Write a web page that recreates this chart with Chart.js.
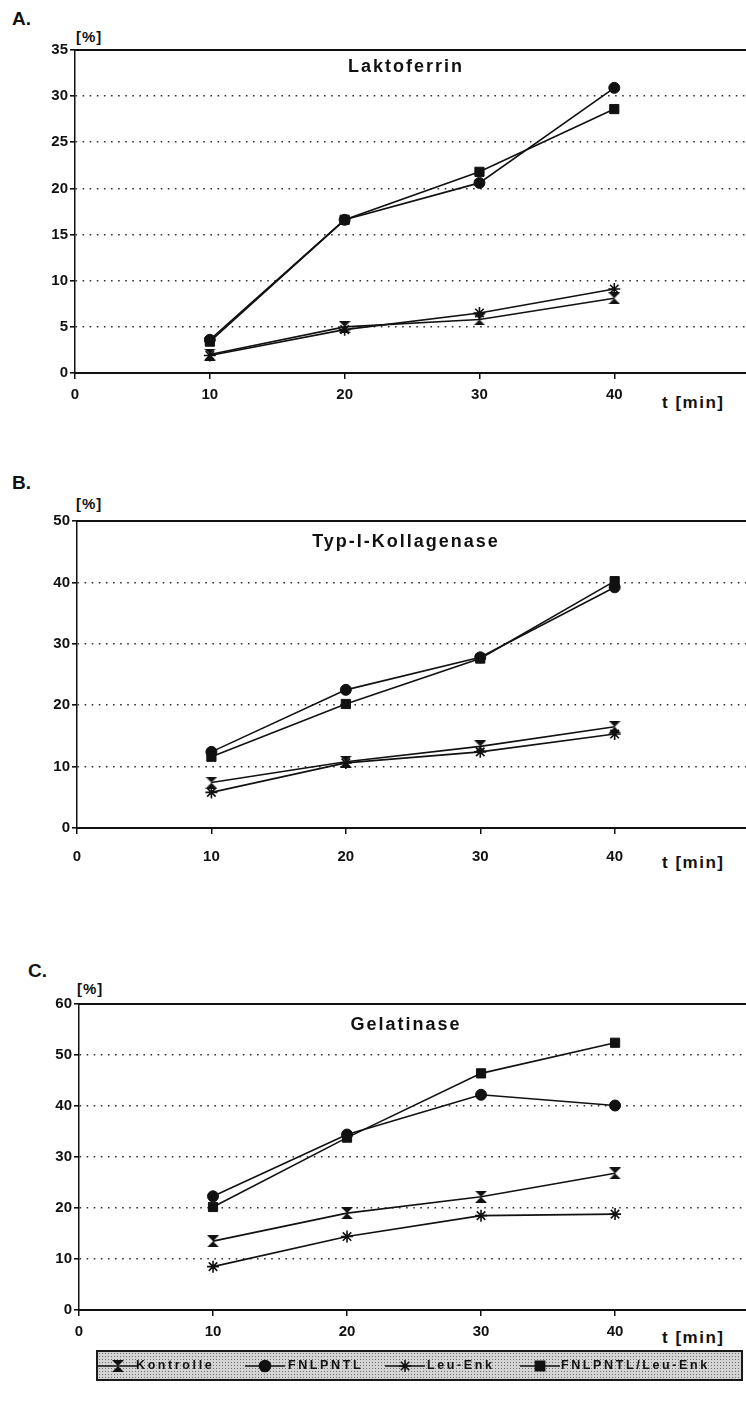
<!DOCTYPE html>
<html>
<head>
<meta charset="utf-8">
<script src="https://cdn.jsdelivr.net/npm/chart.js@4/dist/chart.umd.min.js"></script>
<style>
  body { margin: 0; background: #fff; width: 746px; height: 1405px; position: relative; overflow: hidden;
         font-family: "Liberation Sans", Arial, sans-serif; color: #111; }
  canvas.panel { position: absolute; left: 0; }
  .lbl { position: absolute; font-weight: bold; white-space: nowrap; line-height: 1; }
  #legend { position: absolute; left: 96px; top: 1350px; width: 647px; height: 31px; box-sizing: border-box;
            border: 2px solid #1a1a1a; background-color: #d4d4d4;
            background-image: radial-gradient(circle, #6e6e6e 0.7px, transparent 1px);
            background-size: 3px 3px; z-index: 2; }
  #legend canvas { position: absolute; top: 3px; }
  #legend span { position: absolute; top: 7px; font-weight: bold; font-size: 12.5px; letter-spacing: 2.6px; line-height: 1; }
</style>
</head>
<body>
<div class="lbl" style="left:12px;top:9px;font-size:19px">A.</div>
<div class="lbl" style="left:76px;top:29px;font-size:15px;letter-spacing:1px">[%]</div>
<div class="lbl" style="left:662px;top:394px;font-size:17px;letter-spacing:1.5px">t [min]</div>
<canvas class="panel" id="chartA" width="754" height="420" style="top:0px"></canvas>

<div class="lbl" style="left:12px;top:473px;font-size:19px">B.</div>
<div class="lbl" style="left:76px;top:496px;font-size:15px;letter-spacing:1px">[%]</div>
<div class="lbl" style="left:662px;top:854px;font-size:17px;letter-spacing:1.5px">t [min]</div>
<canvas class="panel" id="chartB" width="754" height="420" style="top:460px"></canvas>

<div class="lbl" style="left:28px;top:961px;font-size:19px">C.</div>
<div class="lbl" style="left:77px;top:981px;font-size:15px;letter-spacing:1px">[%]</div>
<div class="lbl" style="left:662px;top:1329px;font-size:17px;letter-spacing:1.5px">t [min]</div>
<canvas class="panel" id="chartC" width="754" height="410" style="top:940px"></canvas>

<div id="legend"></div>

<script>
// Zeitpunkte (min)
const times = [10, 20, 30, 40];
const xTicks = [0, 10, 20, 30, 40];
const seriesNames = ['Kontrolle', 'FNLPNTL', 'Leu-Enk', 'FNLPNTL/Leu-Enk'];

// A. Laktoferrin
const laktoKontrolle = [2.0, 5.0, 5.8, 8.1];
const laktoFnlpntl = [3.6, 16.6, 20.6, 30.9];
const laktoLeuEnk = [1.9, 4.7, 6.5, 9.1];
const laktoKombi = [3.4, 16.6, 21.8, 28.6];
const laktoYTicks = [0, 5, 10, 15, 20, 25, 30, 35];

// B. Typ-I-Kollagenase
const kollKontrolle = [7.4, 10.8, 13.3, 16.5];
const kollFnlpntl = [12.4, 22.5, 27.8, 39.2];
const kollLeuEnk = [5.8, 10.6, 12.4, 15.3];
const kollKombi = [11.6, 20.2, 27.6, 40.2];
const kollYTicks = [0, 10, 20, 30, 40, 50];

// C. Gelatinase
const gelaKontrolle = [13.5, 19.0, 22.2, 26.8];
const gelaFnlpntl = [22.3, 34.4, 42.2, 40.1];
const gelaLeuEnk = [8.5, 14.4, 18.5, 18.8];
const gelaKombi = [20.2, 33.8, 46.4, 52.4];
const gelaYTicks = [0, 10, 20, 30, 40, 50, 60];

const ink = '#111';
const tickFont = { family: '"Liberation Sans", Arial, sans-serif', size: 15, weight: 'bold' };

// Sanduhr-Symbol fuer Kontrolle
function hourglass(size) {
  const c = document.createElement('canvas');
  c.width = size; c.height = size;
  const g = c.getContext('2d');
  g.fillStyle = ink;
  g.beginPath();
  g.moveTo(0, 0); g.lineTo(size, 0); g.lineTo(size / 2, size / 2); g.closePath();
  g.moveTo(0, size); g.lineTo(size, size); g.lineTo(size / 2, size / 2); g.closePath();
  g.fill();
  return c;
}

const markerStyles = [hourglass(12), 'circle', 'star', 'rect'];
const markerRadius = [6, 5.5, 6, 6.5];
const markerBorder = [1, 1, 1.6, 1];

// Titel im Diagramm + obere Rahmenlinie
const panelTitle = {
  id: 'panelTitle',
  afterDraw(chart, args, opts) {
    const { ctx, chartArea } = chart;
    ctx.save();
    ctx.strokeStyle = ink;
    ctx.lineWidth = 2;
    ctx.beginPath();
    ctx.moveTo(chartArea.left, chartArea.top);
    ctx.lineTo(chartArea.right, chartArea.top);
    ctx.stroke();
    ctx.fillStyle = ink;
    ctx.font = 'bold 18px "Liberation Sans", Arial, sans-serif';
    ctx.letterSpacing = '2px';
    ctx.textAlign = 'center';
    ctx.textBaseline = 'middle';
    ctx.fillText(opts.text, 406, chartArea.top + opts.dy);
    ctx.restore();
  }
};

function makePanel(id, title, rows, yTicks, g) {
  const yMax = yTicks[yTicks.length - 1];
  return new Chart(document.getElementById(id), {
    type: 'line',
    data: {
      datasets: rows.map(function (vals, i) {
        return {
          label: seriesNames[i],
          data: vals.map(function (v, j) { return { x: times[j], y: v }; }),
          borderColor: ink,
          backgroundColor: ink,
          borderWidth: 1.6,
          pointStyle: markerStyles[i],
          pointRadius: markerRadius[i],
          pointBorderWidth: markerBorder[i],
          tension: 0
        };
      })
    },
    options: {
      responsive: false,
      animation: false,
      layout: { padding: { top: g.top, left: 0, right: 0, bottom: 0 } },
      plugins: {
        legend: { display: false },
        tooltip: { enabled: false },
        panelTitle: { text: title, dy: g.titleDy }
      },
      scales: {
        x: {
          type: 'linear',
          min: 0,
          max: 49.8,
          afterBuildTicks: function (s) { s.ticks = xTicks.map(function (v) { return { value: v }; }); },
          afterFit: function (s) { s.height = g.xh; },
          ticks: { font: tickFont, color: ink, padding: g.xpad, maxRotation: 0, autoSkip: false },
          grid: { drawOnChartArea: false, tickLength: 6, color: ink, lineWidth: 1.5 },
          border: { width: 2, color: ink }
        },
        y: {
          min: yTicks[0],
          max: yMax,
          afterBuildTicks: function (s) { s.ticks = yTicks.map(function (v) { return { value: v }; }); },
          afterFit: function (s) { s.width = g.left; },
          ticks: { font: tickFont, color: ink, padding: 2 },
          grid: {
            color: function (c) {
              return (c.tick && (c.tick.value === 0 || c.tick.value === yMax)) ? 'rgba(0,0,0,0)' : '#333';
            },
            lineWidth: 1.6,
            tickLength: 5,
            tickColor: ink
          },
          border: { width: 1.5, color: ink, dash: [1.6, 5.5] }
        }
      }
    },
    plugins: [panelTitle]
  });
}

makePanel('chartA', 'Laktoferrin', [laktoKontrolle, laktoFnlpntl, laktoLeuEnk, laktoKombi], laktoYTicks,
  { top: 50, xh: 47, left: 75, xpad: 7, titleDy: 17 });
makePanel('chartB', 'Typ-I-Kollagenase', [kollKontrolle, kollFnlpntl, kollLeuEnk, kollKombi], kollYTicks,
  { top: 61, xh: 52, left: 77, xpad: 14, titleDy: 21 });
makePanel('chartC', 'Gelatinase', [gelaKontrolle, gelaFnlpntl, gelaLeuEnk, gelaKombi], gelaYTicks,
  { top: 64, xh: 40, left: 79, xpad: 7, titleDy: 21 });

// gemeinsame Legende
const legend = document.getElementById('legend');
const legendGlyphX = [118, 265, 405, 540];
const legendTextX = [136, 288, 427, 561];
seriesNames.forEach(function (name, i) {
  const c = document.createElement('canvas');
  c.width = 44; c.height = 22;
  c.style.left = (legendGlyphX[i] - 22 - 98) + 'px';
  const g = c.getContext('2d');
  g.strokeStyle = ink; g.fillStyle = ink; g.lineWidth = 1.6;
  g.beginPath(); g.moveTo(2, 11); g.lineTo(42, 11); g.stroke();
  Chart.helpers.drawPoint(g, { pointStyle: markerStyles[i], radius: markerRadius[i], borderWidth: markerBorder[i], rotation: 0 }, 22, 11);
  legend.appendChild(c);
  const s = document.createElement('span');
  s.textContent = name;
  s.style.left = (legendTextX[i] - 98) + 'px';
  legend.appendChild(s);
});
</script>
</body>
</html>
